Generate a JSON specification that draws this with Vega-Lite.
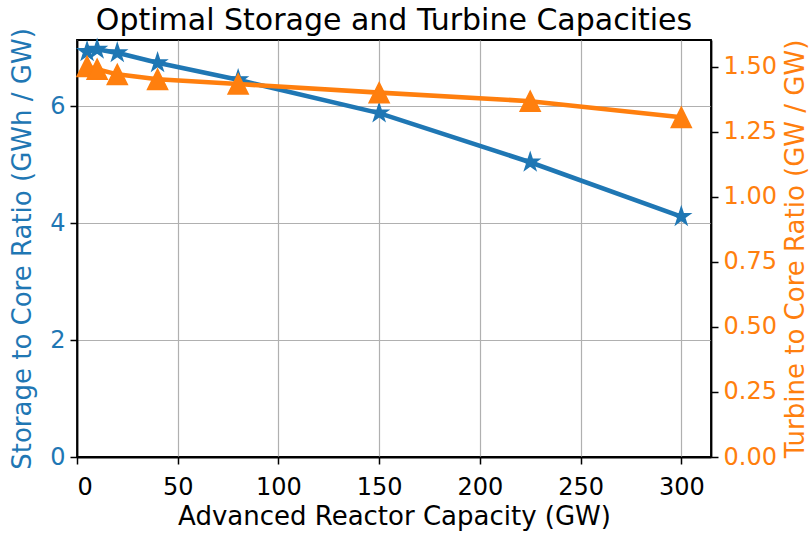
{
  "$schema": "https://vega.github.io/schema/vega-lite/v6.json",
  "width": 634,
  "height": 417,
  "autosize": {"type": "none"},
  "padding": {"left": 77, "top": 40, "right": 100, "bottom": 78},
  "background": "white",
  "title": {"text": "Optimal Storage and Turbine Capacities", "fontSize": 30, "font": "DejaVu Sans", "fontWeight": "normal", "color": "black", "offset": 8, "dy": 16, "anchor": "middle"},
  "config": {
    "view": {"stroke": "black", "strokeWidth": 1.8},
    "axis": {"labelFont": "DejaVu Sans", "titleFont": "DejaVu Sans", "labelFontSize": 24, "titleFontSize": 26, "titleFontWeight": "normal", "domainColor": "black", "domainWidth": 1.8, "tickColor": "black", "tickWidth": 1.5, "tickSize": 7, "gridColor": "#b0b0b0", "gridWidth": 1.2, "labelColor": "black", "titleColor": "black", "labelPadding": 5, "titlePadding": 6}
  },
  "data": {"values": [
    {"capacity": 5, "storage": 6.93, "turbine": 1.50},
    {"capacity": 10, "storage": 6.97, "turbine": 1.49},
    {"capacity": 20, "storage": 6.91, "turbine": 1.47},
    {"capacity": 40, "storage": 6.74, "turbine": 1.451},
    {"capacity": 80, "storage": 6.45, "turbine": 1.433},
    {"capacity": 150, "storage": 5.88, "turbine": 1.40},
    {"capacity": 225, "storage": 5.04, "turbine": 1.367},
    {"capacity": 300, "storage": 4.11, "turbine": 1.305}
  ]},
  "layer": [
    {
      "layer": [
        {
          "mark": {"type": "line", "color": "#1f77b4", "strokeWidth": 4.6},
          "encoding": {
            "x": {"field": "capacity", "type": "quantitative", "scale": {"domain": [0, 314.75], "nice": false, "zero": false}, "axis": {"values": [0, 50, 100, 150, 200, 250, 300], "title": "Advanced Reactor Capacity (GW)", "grid": true, "labelPadding": 11, "titlePadding": 4}},
            "y": {"field": "storage", "type": "quantitative", "scale": {"domain": [0, 7.13], "nice": false}, "axis": {"values": [0, 2, 4, 6], "format": "d", "title": "Storage to Core Ratio (GWh / GW)", "labelColor": "#1f77b4", "titleColor": "#1f77b4", "grid": true, "titlePadding": 14}}
          }
        },
        {
          "mark": {"type": "point", "filled": true, "opacity": 1, "color": "#1f77b4", "stroke": "#1f77b4", "strokeWidth": 1.4, "size": 360, "shape": "M0,-1L0.2245,-0.309L0.951,-0.309L0.3633,0.118L0.588,0.809L0,0.382L-0.588,0.809L-0.3633,0.118L-0.951,-0.309L-0.2245,-0.309Z"},
          "encoding": {
            "x": {"field": "capacity", "type": "quantitative"},
            "y": {"field": "storage", "type": "quantitative"}
          }
        }
      ]
    },
    {
      "layer": [
        {
          "mark": {"type": "line", "color": "#ff7f0e", "strokeWidth": 4.6},
          "encoding": {
            "x": {"field": "capacity", "type": "quantitative"},
            "y": {"field": "turbine", "type": "quantitative", "scale": {"domain": [0, 1.602], "nice": false}, "axis": {"orient": "right", "values": [0, 0.25, 0.5, 0.75, 1.0, 1.25, 1.5], "format": ".2f", "title": "Turbine to Core Ratio (GW / GW)", "titleAngle": -90, "titleBaseline": "top", "labelColor": "#ff7f0e", "titleColor": "#ff7f0e", "grid": false}}
          }
        },
        {
          "mark": {"type": "point", "filled": true, "opacity": 1, "color": "#ff7f0e", "stroke": "#ff7f0e", "strokeWidth": 1.4, "size": 410, "shape": "M0,-1L1,1L-1,1Z"},
          "encoding": {
            "x": {"field": "capacity", "type": "quantitative"},
            "y": {"field": "turbine", "type": "quantitative"}
          }
        }
      ]
    }
  ],
  "resolve": {"scale": {"y": "independent"}}
}
